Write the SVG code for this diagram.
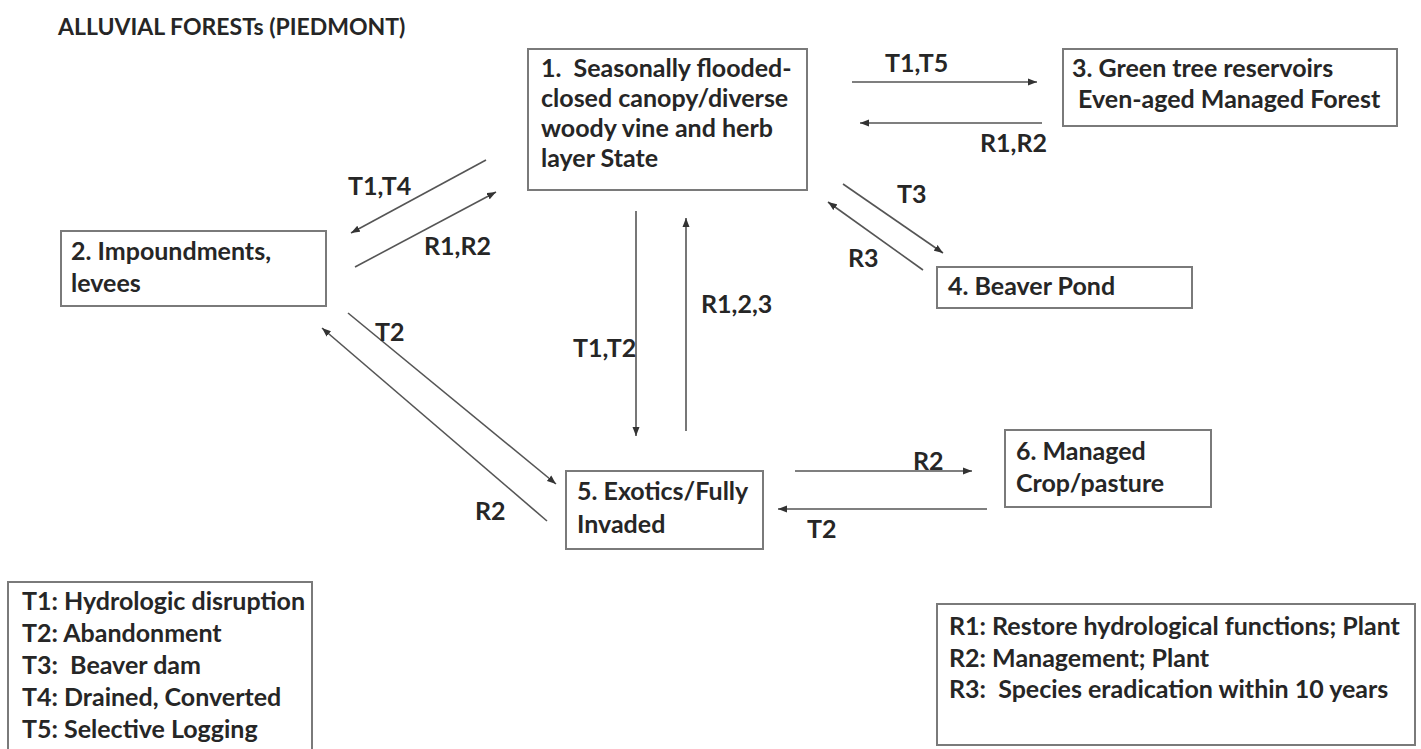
<svg xmlns="http://www.w3.org/2000/svg" width="1421" height="749" viewBox="0 0 1421 749">
<style>
text{font-family:Lato,"Liberation Sans",sans-serif;font-weight:bold;font-size:25px;fill:#262626;white-space:pre}
.box{fill:#fff;stroke:#7a7a7a;stroke-width:2}
.c line{stroke:#555;stroke-width:1.6;marker-end:url(#ah)}
</style>
<defs>
<marker id="ah" markerUnits="userSpaceOnUse" markerWidth="10" markerHeight="8" refX="9" refY="4" orient="auto">
<path d="M0,0.5 L9,4 L0,7.5 z" fill="#333"/>
</marker>
</defs>
<rect width="1421" height="749" fill="#fff"/>
<text id="title" x="58" y="35" style="font-size:23px">ALLUVIAL FORESTs (PIEDMONT)</text>
<g id="node1">
<rect class="box" x="528" y="49" width="279" height="141"/>
<text x="541" y="77">1.  Seasonally flooded-</text>
<text x="541" y="107">closed canopy/diverse</text>
<text x="541" y="137">woody vine and herb</text>
<text x="541" y="167">layer State</text>
</g>
<g id="node3">
<rect class="box" x="1063" y="49" width="334" height="77"/>
<text x="1072" y="77">3. Green tree reservoirs</text>
<text x="1072" y="108"> Even-aged Managed Forest</text>
</g>
<g id="node2">
<rect class="box" x="61" y="231" width="265" height="75"/>
<text x="71" y="260">2. Impoundments,</text>
<text x="71" y="292">levees</text>
</g>
<g id="node4">
<rect class="box" x="937" y="267" width="255" height="41"/>
<text x="948" y="295">4. Beaver Pond</text>
</g>
<g id="node5">
<rect class="box" x="566" y="471" width="197" height="78"/>
<text x="577" y="500">5. Exotics/Fully</text>
<text x="577" y="533">Invaded</text>
</g>
<g id="node6">
<rect class="box" x="1005" y="430" width="206" height="77"/>
<text x="1016" y="460">6. Managed</text>
<text x="1016" y="492">Crop/pasture</text>
</g>
<g id="legendT">
<rect class="box" x="8" y="582" width="304" height="180"/>
<text x="22" y="610">T1: Hydrologic disruption</text>
<text x="22" y="642">T2: Abandonment</text>
<text x="22" y="674">T3:  Beaver dam</text>
<text x="22" y="706">T4: Drained, Converted</text>
<text x="22" y="738">T5: Selective Logging</text>
</g>
<g id="legendR">
<rect class="box" x="937" y="604" width="478" height="141"/>
<text x="949" y="635">R1: Restore hydrological functions; Plant</text>
<text x="949" y="667">R2: Management; Plant</text>
<text x="949" y="698">R3:  Species eradication within 10 years</text>
</g>
<g id="connectors" class="c">
<line x1="852" y1="82" x2="1037" y2="82"/>
<line x1="1042" y1="123" x2="860" y2="123"/>
<line x1="486" y1="160" x2="351" y2="233"/>
<line x1="355" y1="267" x2="496" y2="192"/>
<line x1="843" y1="184" x2="943" y2="253"/>
<line x1="923" y1="270" x2="828" y2="202"/>
<line x1="636" y1="211" x2="636" y2="436"/>
<line x1="686" y1="431" x2="686" y2="218"/>
<line x1="348" y1="313" x2="556" y2="484"/>
<line x1="547" y1="521" x2="322" y2="328"/>
<line x1="795" y1="471" x2="972" y2="471"/>
<line x1="987" y1="509" x2="778" y2="509"/>
</g>
<g id="labels">
<text x="885" y="72">T1,T5</text>
<text x="980" y="152">R1,R2</text>
<text x="348" y="195">T1,T4</text>
<text x="424" y="255">R1,R2</text>
<text x="897" y="203">T3</text>
<text x="848" y="267">R3</text>
<text x="573" y="357">T1,T2</text>
<text x="701" y="313">R1,2,3</text>
<text x="375" y="341">T2</text>
<text x="475" y="520">R2</text>
<text x="913" y="470">R2</text>
<text x="807" y="538">T2</text>
</g>
</svg>
